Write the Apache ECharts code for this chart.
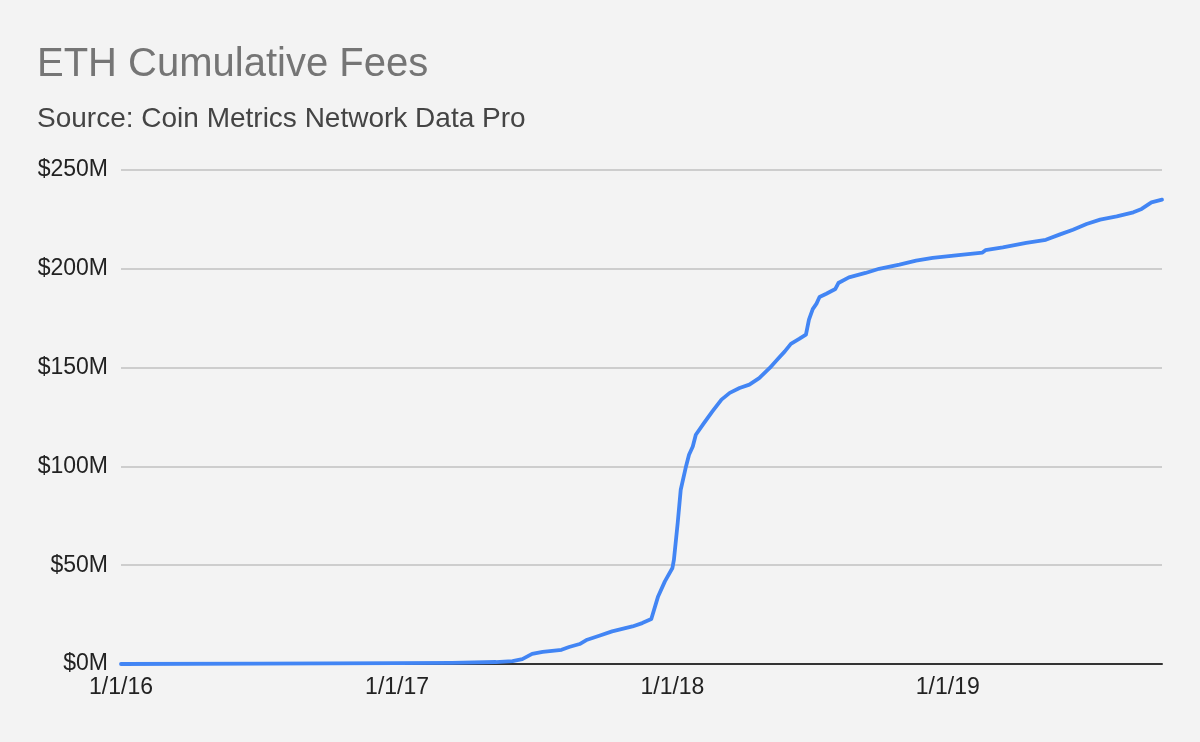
<!DOCTYPE html>
<html>
<head>
<meta charset="utf-8">
<script src="https://cdn.jsdelivr.net/npm/echarts@6/dist/echarts.min.js"></script>
<style>
html,body{margin:0;padding:0;background:#f3f3f3;}
#chart{width:1200px;height:742px;}
</style>
</head>
<body>
<div id="chart"></div>
<script>
const titleText = 'ETH Cumulative Fees';
const subtitleText = 'Source: Coin Metrics Network Data Pro';
const dates = ['2016-01-01','2016-07-01','2017-01-01','2017-03-15','2017-05-12','2017-06-03','2017-06-16','2017-06-29','2017-07-13','2017-08-07','2017-08-17','2017-08-31','2017-09-10','2017-09-26','2017-10-13','2017-11-09','2017-11-22','2017-12-04','2017-12-13','2017-12-22','2018-01-01','2018-01-03','2018-01-08','2018-01-12','2018-01-19','2018-01-23','2018-01-28','2018-02-01','2018-02-12','2018-02-23','2018-03-07','2018-03-18','2018-03-31','2018-04-13','2018-04-26','2018-05-10','2018-05-21','2018-05-30','2018-06-07','2018-06-18','2018-06-27','2018-06-29','2018-07-01','2018-07-06','2018-07-11','2018-07-15','2018-07-24','2018-08-05','2018-08-09','2018-08-23','2018-09-14','2018-10-02','2018-10-29','2018-11-20','2018-12-12','2019-01-12','2019-02-16','2019-02-20','2019-03-15','2019-04-15','2019-05-11','2019-05-29','2019-06-16','2019-07-04','2019-07-22','2019-08-13','2019-09-04','2019-09-15','2019-09-28','2019-10-12'];
const feesM = [0.0,0.2,0.4,0.6,1.0,1.5,2.5,5.1,6.1,7.2,8.6,10.1,12.3,14.3,16.5,19.0,20.7,22.8,34.2,41.8,48.6,52.8,71.4,88.2,100.0,105.9,110.1,116.0,122.0,127.8,133.8,137.2,139.7,141.4,144.7,149.8,154.5,158.2,162.0,164.5,166.7,167.0,174.3,179.6,182.4,185.7,187.4,189.8,192.8,195.7,197.9,200.0,202.1,204.1,205.5,206.8,208.2,209.4,210.8,213.1,214.7,217.3,219.8,222.7,224.9,226.5,228.6,230.3,233.6,235.0];
const xMin = '2016-01-01';
const xMax = '2019-10-12';
const yTicks = [0, 50, 100, 150, 200, 250];

const font = '"Liberation Sans", Arial, sans-serif';
const chart = echarts.init(document.getElementById('chart'));
chart.setOption({
  backgroundColor: '#f3f3f3',
  animation: false,
  title: [
    {text: titleText, left: 37, top: 45, padding: 0, textStyle: {fontFamily: font, fontSize: 40, fontWeight: 'normal', color: '#757575'}},
    {text: subtitleText, left: 37, top: 105, padding: 0, textStyle: {fontFamily: font, fontSize: 28, fontWeight: 'normal', color: '#444444'}}
  ],
  grid: {left: 121, right: 38, top: 170, bottom: 78, containLabel: false},
  xAxis: {
    type: 'time',
    min: xMin,
    max: xMax,
    axisLine: {show: true, lineStyle: {color: '#333333', width: 2}},
    axisTick: {show: false},
    splitLine: {show: false},
    axisLabel: {
      showMinLabel: true,
      showMaxLabel: false,
      hideOverlap: false,
      margin: 12,
      fontFamily: font, fontSize: 23, color: '#222222',
      formatter: function (val) {
        const d = new Date(val);
        if (d.getMonth() === 0 && d.getDate() === 1) {
          return '1/1/' + String(d.getFullYear()).slice(2);
        }
        return '';
      }
    }
  },
  yAxis: {
    type: 'value',
    min: yTicks[0],
    max: yTicks[yTicks.length - 1],
    interval: 50,
    axisLine: {show: false},
    axisTick: {show: false},
    splitLine: {show: true, lineStyle: {color: '#c0c0c0', width: 1.5}},
    axisLabel: {margin: 13, fontFamily: font, fontSize: 23, color: '#222222', formatter: '${value}M'}
  },
  series: [{
    type: 'line',
    data: dates.map((d, i) => [d, feesM[i]]),
    showSymbol: false,
    smooth: false,
    lineStyle: {color: '#4285f4', width: 3.8, join: 'round', cap: 'round'},
    z: 3
  }]
});
</script>
</body>
</html>
